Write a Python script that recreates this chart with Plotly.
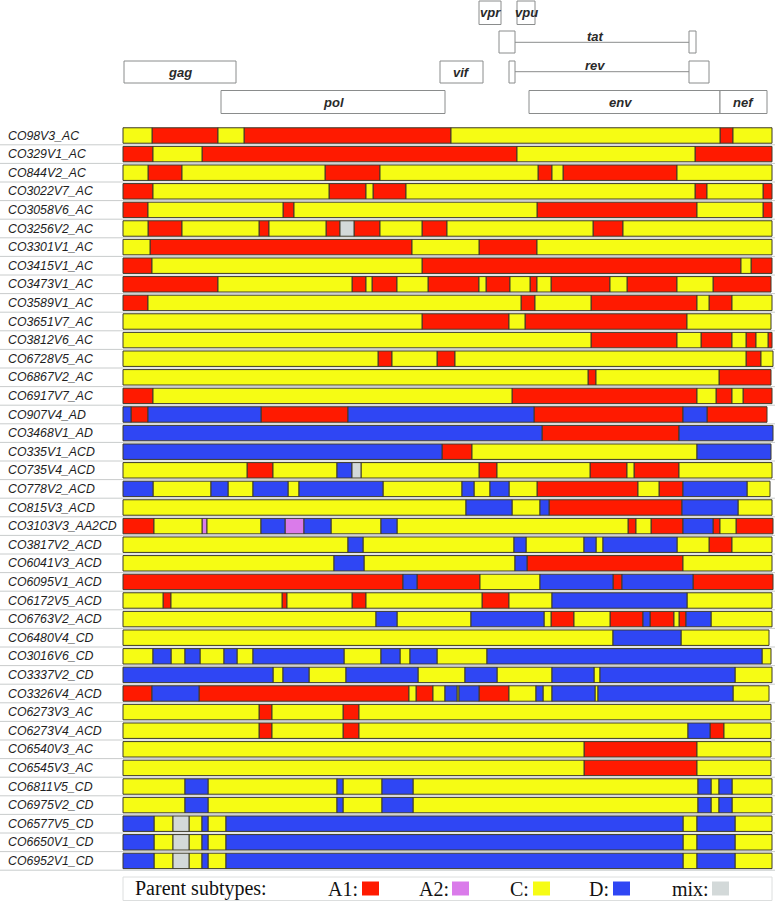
import plotly.graph_objects as go

# ---------------- data ----------------
NAMES = [
    "CO98V3_AC", "CO329V1_AC", "CO844V2_AC", "CO3022V7_AC", "CO3058V6_AC",
    "CO3256V2_AC", "CO3301V1_AC", "CO3415V1_AC", "CO3473V1_AC", "CO3589V1_AC",
    "CO3651V7_AC", "CO3812V6_AC", "CO6728V5_AC", "CO6867V2_AC", "CO6917V7_AC",
    "CO907V4_AD", "CO3468V1_AD", "CO335V1_ACD", "CO735V4_ACD", "CO778V2_ACD",
    "CO815V3_ACD", "CO3103V3_AA2CD", "CO3817V2_ACD", "CO6041V3_ACD", "CO6095V1_ACD",
    "CO6172V5_ACD", "CO6763V2_ACD", "CO6480V4_CD", "CO3016V6_CD", "CO3337V2_CD",
    "CO3326V4_ACD", "CO6273V3_AC", "CO6273V4_ACD", "CO6540V3_AC", "CO6545V3_AC",
    "CO6811V5_CD", "CO6975V2_CD", "CO6577V5_CD", "CO6650V1_CD", "CO6952V1_CD",
]

# subtype:start ... |end   (genome position, arbitrary units along the map)
SEGMENTS = [
    "C:0 A1:29 C:95 A1:121 C:328 A1:597 C:610 |649",
    "A1:0 C:30 A1:79 C:394 A1:572 |649",
    "C:0 A1:25 C:59 A1:202 C:257 A1:415 C:429 A1:440 C:554 |649",
    "A1:0 C:30 A1:206 C:243 A1:250 C:283 A1:572 C:584 A1:640 |649",
    "A1:0 C:25 A1:160 C:171 A1:414 C:574 A1:640 |649",
    "C:0 A1:25 C:59 A1:136 C:146 A1:203 X:217 A1:231 C:257 A1:299 C:324 A1:470 C:500 |649",
    "C:0 A1:27 C:289 A1:356 C:414 |649",
    "A1:0 C:29 A1:299 C:618 A1:628 |649",
    "A1:0 C:95 A1:229 C:243 A1:249 C:274 A1:305 C:356 A1:363 C:387 A1:407 C:414 A1:428 C:487 A1:504 C:554 A1:590 |648",
    "A1:0 C:25 A1:398 C:412 A1:468 C:574 A1:586 C:609 |649",
    "C:0 A1:299 C:386 A1:402 C:564 |648",
    "C:0 A1:468 C:554 A1:578 C:609 A1:623 C:633 A1:645 |649",
    "C:0 A1:255 C:269 A1:314 C:332 A1:623 C:638 |650",
    "C:0 A1:465 C:473 A1:596 |648",
    "A1:0 C:30 A1:389 C:574 A1:593 C:609 A1:620 |649",
    "D:0 A1:8 D:25 A1:138 D:225 A1:411 D:560 A1:584 |644",
    "D:0 A1:419 D:556 |650",
    "D:0 A1:319 C:349 D:574 |648",
    "C:0 A1:124 C:150 D:214 X:229 C:238 A1:356 C:374 A1:467 C:504 A1:511 C:556 |649",
    "D:0 C:30 D:88 C:105 D:130 C:165 D:176 C:260 D:339 C:351 D:367 C:386 A1:414 C:515 A1:536 D:560 C:624 |647",
    "C:0 D:343 C:389 D:417 A1:426 D:559 C:615 |649",
    "A1:0 C:31 A2:79 C:84 D:138 A2:162 D:181 C:208 D:258 C:274 A1:505 C:513 A1:528 D:560 A1:590 C:597 A1:613 |650",
    "C:0 D:225 C:240 D:391 C:403 D:461 C:473 D:480 C:554 A1:586 C:609 |649",
    "C:0 D:211 C:241 D:392 A1:404 C:560 |649",
    "A1:0 D:280 A1:294 C:357 D:417 A1:490 D:499 A1:570 |650",
    "C:0 A1:40 C:48 A1:159 C:164 A1:229 C:243 A1:359 C:386 D:429 C:564 |649",
    "C:0 D:253 C:274 D:348 C:421 A1:428 C:451 A1:487 D:520 A1:527 C:551 A1:556 D:563 C:588 |649",
    "C:0 D:490 C:558 |646",
    "C:0 D:30 C:48 D:62 C:77 D:101 C:114 D:130 C:221 D:258 C:277 D:287 C:314 D:364 C:639 |648",
    "D:0 C:150 D:160 C:186 D:223 C:295 D:342 C:374 D:429 C:471 D:477 C:612 |649",
    "A1:0 D:29 A1:76 C:286 A1:293 C:310 D:322 C:334 D:336 A1:356 C:386 D:413 C:420 D:429 C:472 D:475 C:610 |646",
    "C:0 A1:136 C:149 A1:220 C:236 |648",
    "C:0 A1:136 C:149 A1:220 C:236 D:565 A1:587 C:601 |648",
    "C:0 A1:461 C:574 |648",
    "C:0 A1:461 C:574 |648",
    "C:0 D:62 C:85 D:214 C:220 D:259 C:290 D:575 C:588 D:596 C:609 |649",
    "C:0 D:62 C:85 D:214 C:220 D:259 C:290 D:575 C:588 D:596 C:609 |649",
    "D:0 C:31 X:50 C:66 D:79 C:85 D:103 C:560 D:574 C:612 |649",
    "D:0 C:31 X:50 C:66 D:79 C:85 D:103 C:560 D:574 C:612 |649",
    "D:0 C:31 X:50 C:66 D:79 C:85 D:103 C:560 D:574 C:612 |649",
]

SUBTYPES = ["A1", "A2", "C", "D", "X"]
SUBTYPE_LABELS = ["A1:", "A2:", "C:", "D:", "mix:"]
COLORS = {"A1": "#FF1A00", "A2": "#DA7BEA", "C": "#F6FC14", "D": "#2F46F4", "X": "#D3D9D9"}

# gene map (same genome axis): name, start, end
GENES = [("gag", 1, 113), ("pol", 98, 322), ("vif", 317, 360), ("vpr", 356, 378),
         ("vpu", 394, 412), ("env", 406, 597), ("nef", 597, 644)]
TAT_EXONS = [(376, 392), (566, 573)]
REV_EXONS = [(386, 392), (566, 586)]

# ---------------- layout helpers ----------------
W, H = 777, 904
ROW0, STEP = 135.5, 18.6


def pp(px):
    return 1 - px / H


fig = go.Figure()

# parse segments
bars = {k: {"y": [], "base": [], "x": []} for k in SUBTYPES}
for i, s in enumerate(SEGMENTS):
    body, end = s.split("|")
    parts = [p.split(":") for p in body.split()]
    end = float(end)
    for j, (code, start) in enumerate(parts):
        start = float(start)
        stop = float(parts[j + 1][1]) if j + 1 < len(parts) else end
        bars[code]["y"].append(i)
        bars[code]["base"].append(start)
        bars[code]["x"].append(stop - start)

for code in SUBTYPES:
    b = bars[code]
    if not b["y"]:
        continue
    fig.add_trace(go.Bar(
        orientation="h", y=b["y"], x=b["x"], base=b["base"], width=0.83,
        marker=dict(color=COLORS[code], line=dict(color="#3c3a2a", width=1)),
        showlegend=False, hoverinfo="skip",
    ))

shapes = []
annotations = []

# row separators and row labels
for i in range(len(NAMES)):
    shapes.append(dict(type="line", xref="paper", yref="y", x0=0, x1=775 / W,
                       y0=i + 0.5, y1=i + 0.5, line=dict(color="#c9cccc", width=1),
                       layer="below"))
    annotations.append(dict(x=-117, y=i, xref="x", yref="y", xanchor="left",
                            yanchor="middle", text=NAMES[i], showarrow=False,
                            font=dict(family="Liberation Sans", size=12.3,
                                      color="#1e1e1e", style="italic")))

box_line = dict(color="#8a8c8c", width=1)
gene_font = dict(family="Liberation Sans", size=13, color="#2a2a2a",
                 weight="bold", style="italic")
gene_rows = {"gag": (61, 83), "vif": (61, 83), "pol": (90.5, 113.5), "env": (90.5, 113.5),
             "nef": (90.5, 113.5), "vpr": (1, 24.5), "vpu": (1, 24.5)}
label_x = {"env": 497}
for name, g0, g1 in GENES:
    t, b_ = gene_rows[name]
    shapes.append(dict(type="rect", xref="x", yref="paper", x0=g0, x1=g1,
                       y0=pp(b_), y1=pp(t), line=box_line, fillcolor="white"))
    annotations.append(dict(x=label_x.get(name, (g0 + g1) / 2), y=pp((t + b_) / 2),
                            xref="x", yref="paper", xanchor="center", yanchor="middle",
                            text=name, showarrow=False, font=gene_font))

for exons, (t, b_), ly, lab, laby in [(TAT_EXONS, (31, 53), 42.3, "tat", 37),
                                       (REV_EXONS, (61, 83), 71.7, "rev", 66)]:
    for e0, e1 in exons:
        shapes.append(dict(type="rect", xref="x", yref="paper", x0=e0, x1=e1,
                           y0=pp(b_), y1=pp(t), line=box_line, fillcolor="white"))
    shapes.append(dict(type="line", xref="x", yref="paper", x0=exons[0][1], x1=exons[1][0],
                       y0=pp(ly), y1=pp(ly), line=box_line))
    annotations.append(dict(x=472, y=pp(laby), xref="x",
                            yref="paper", xanchor="center", yanchor="middle",
                            text=lab, showarrow=False, font=gene_font))

# legend box
shapes.append(dict(type="rect", xref="x", yref="paper", x0=0, x1=649, y0=pp(900.5), y1=pp(877),
                   line=dict(color="#dcdede", width=1), fillcolor="white"))
serif = dict(family="Liberation Serif", size=20, color="#111111")
annotations.append(dict(x=10, y=pp(888.5), xref="x", yref="paper", xanchor="left",
                        yanchor="middle", text="Parent subtypes:", showarrow=False, font=serif))
leg_text_right = [237, 328, 408, 488, 588]
leg_sq = [239, 329, 410, 490, 589]
for code, lab, tx, sx in zip(SUBTYPES, SUBTYPE_LABELS, leg_text_right, leg_sq):
    annotations.append(dict(x=tx, y=pp(888.5), xref="x", yref="paper", xanchor="right",
                            yanchor="middle", text=lab, showarrow=False, font=serif))
    shapes.append(dict(type="rect", xref="x", yref="paper", x0=sx, x1=sx + 17,
                       y0=pp(895.5), y1=pp(881.5), line=dict(width=0),
                       fillcolor=COLORS[code]))

fig.update_layout(
    width=W, height=H, margin=dict(l=0, r=0, t=0, b=0),
    paper_bgcolor="white", plot_bgcolor="white",
    barmode="overlay", showlegend=False,
    xaxis=dict(range=[-123, W - 123], visible=False, fixedrange=True),
    yaxis=dict(range=[(H - ROW0) / STEP, -ROW0 / STEP], visible=False, fixedrange=True),
    shapes=shapes, annotations=annotations,
)

fig.write_html(
    "out.html",
    config={"displayModeBar": False},
    post_script="document.body.style.margin='0';document.body.style.overflow='hidden';",
)
